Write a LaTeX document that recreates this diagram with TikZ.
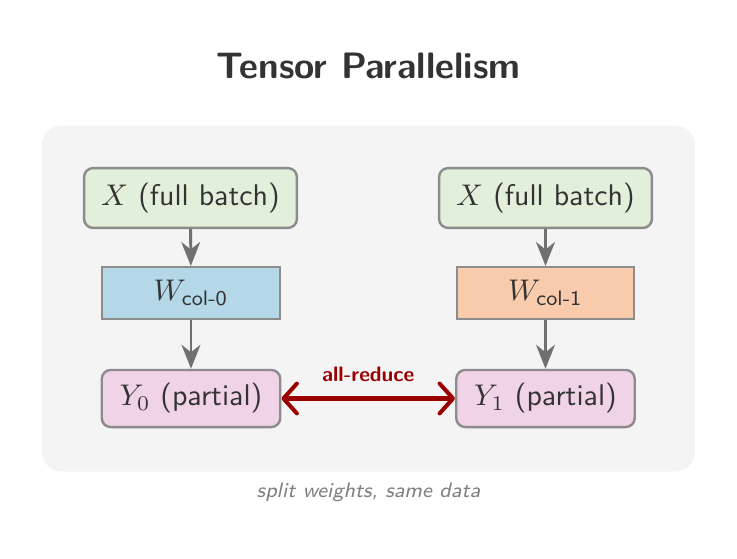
\documentclass[tikz,border=0pt]{standalone}
\usetikzlibrary{arrows.meta}
\definecolor{txt}{HTML}{333333}
\definecolor{panel}{HTML}{F4F4F4}
\definecolor{bordergray}{HTML}{8C8C8C}
\definecolor{arrowgray}{HTML}{707070}
\definecolor{greenfill}{HTML}{E2EFDA}
\definecolor{bluefill}{HTML}{B4D8E7}
\definecolor{peachfill}{HTML}{F8CBAD}
\definecolor{pinkfill}{HTML}{F0D3E6}
\definecolor{redline}{HTML}{990000}
\definecolor{capgray}{HTML}{808080}
\newcommand{\subsf}[1]{\hbox{\fontsize{7}{8}\selectfont\sffamily #1}}
\tikzset{
  inbox/.style={draw=bordergray, line width=0.8pt, rounded corners=3pt, fill=greenfill,
    minimum width=71.2pt, minimum height=20pt, inner sep=0pt, text=txt, font=\sffamily},
  wbox/.style={draw=bordergray, line width=0.7pt, minimum width=59.5pt, minimum height=17.4pt,
    inner sep=0pt, text=txt, font=\sffamily},
  outbox/.style={draw=bordergray, line width=0.8pt, rounded corners=3pt, fill=pinkfill,
    minimum width=59.7pt, minimum height=19.1pt, inner sep=0pt, text=txt, font=\sffamily},
  garrow/.style={draw=arrowgray, line width=1pt, -{Stealth[length=8pt,width=6.3pt,inset=2.5pt]}},
  redarrow/.style={draw=redline, line width=1.35pt, {Straight Barb[length=4.5pt,width=10pt,round]}-{Straight Barb[length=4.5pt,width=10pt,round]}},
}
\begin{document}
\begin{tikzpicture}[x=0.3345pt,y=-0.3345pt]
\useasboundingbox (0,0) rectangle (737,559);
\fill[panel, rounded corners=6.7pt] (41.7,125.5) rectangle (695,471.5);
\node[anchor=base, font=\sffamily\fontsize{12.3}{14}\selectfont\bfseries, text=txt] (title) at (368.5,78.5) {Tensor Parallelism};
\node[inbox] (x0) at (190.5,198) {$X$ (full batch)};
\node[inbox] (x1) at (545.5,198) {$X$ (full batch)};
\node[wbox, fill=bluefill] (w0) at (191,293) {$W_{\subsf{col-0}}$};
\node[wbox, fill=peachfill] (w1) at (545.5,293) {$W_{\subsf{col-1}}$};
\node[outbox] (y0) at (191,398.5) {$Y_0$ (partial)};
\node[outbox] (y1) at (545.5,398.5) {$Y_1$ (partial)};
\draw[garrow] (x0) -- (w0);
\draw[garrow] (x1) -- (w1);
\draw[garrow] (w0) -- (y0);
\draw[garrow] (w1) -- (y1);
\draw[redarrow] (y0) -- (y1) node[midway, above=1.5pt, font=\sffamily\scriptsize\bfseries, text=redline] (ar) {all-reduce};
\node[anchor=base, font=\sffamily\scriptsize\itshape, text=capgray] (cap) at (368.5,497) {split weights, same data};
\end{tikzpicture}
\end{document}
